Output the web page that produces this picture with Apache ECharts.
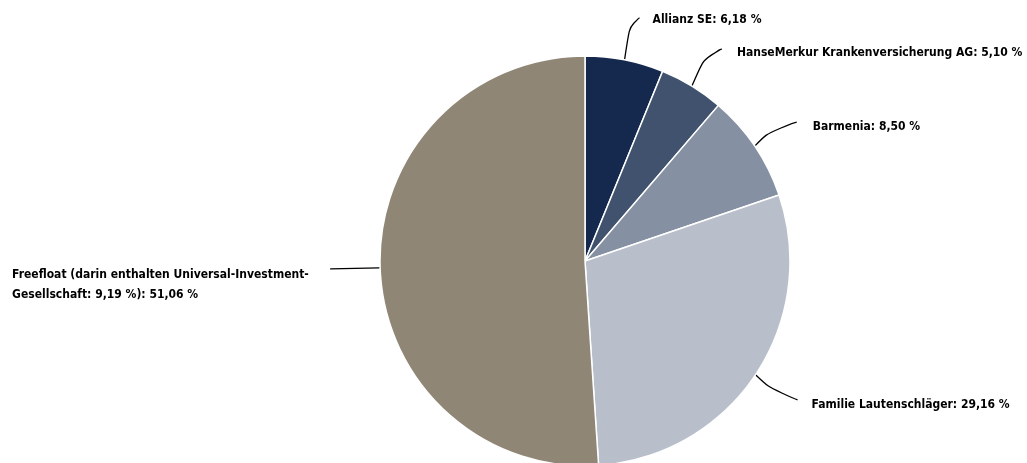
<!DOCTYPE html>
<html><head><meta charset="utf-8">
<script src="https://cdn.jsdelivr.net/npm/echarts@6/dist/echarts.min.js"></script>
<style>html,body{margin:0;padding:0;background:#fff}#c{width:1027px;height:463px}</style>
</head><body><div id="c"></div>
<script>
// ---- data ----
const categories = [
  'Allianz SE',
  'HanseMerkur Krankenversicherung AG',
  'Barmenia',
  'Familie Lautenschläger',
  'Freefloat (darin enthalten Universal-Investment-\nGesellschaft: 9,19 %)'
];
const shares = [6.18, 5.10, 8.50, 29.16, 51.06];

// ---- style / layout (not data) ----
const colors = ['#14294d', '#40526e', '#8590a3', '#b8bfcb', '#8f8676'];
// per label: [elbowDx, elbowDy, endDx, endDy, textDx, textDy, align] relative to the slice edge point
const labelGeom = [
  [6, -40, 15, -42, 28, -40, 'left'],
  [16, -37, 30, -37, 45, -33, 'left'],
  [23, -24, 42, -24, 58, -19, 'left'],
  [24, 23, 42, 25, 56, 30, 'left'],
  [-25, 0, -50, 1, -368, 17, 'left']
];

const fmt = v => v.toFixed(2).replace('.', ',') + ' %';

const chart = echarts.init(document.getElementById('c'), null, {renderer: 'canvas'});
chart.setOption({
  animation: false,
  backgroundColor: '#ffffff',
  series: [{
    type: 'pie',
    center: [585, 261],
    radius: [0, 205],
    startAngle: 90,
    clockwise: true,
    avoidLabelOverlap: false,
    data: categories.map((n, i) => ({name: n, value: shares[i], itemStyle: {color: colors[i]}})),
    itemStyle: {borderColor: '#ffffff', borderWidth: 1.5},
    label: {
      show: true,
      position: 'outside',
      formatter: p => p.name + ': ' + fmt(p.value),
      fontFamily: "'DejaVu Sans Condensed', 'Liberation Sans Narrow', sans-serif",
      fontWeight: 'bold',
      fontSize: 12,
      lineHeight: 20,
      color: '#000000'
    },
    labelLine: {
      show: true,
      smooth: 0.9,
      lineStyle: {color: '#000000', width: 1.3}
    },
    labelLayout: function (params) {
      const g = labelGeom[params.dataIndex];
      const p0 = params.labelLinePoints[0];
      return {
        x: p0[0] + g[4],
        y: p0[1] + g[5],
        align: g[6],
        verticalAlign: 'middle',
        labelLinePoints: [
          [p0[0], p0[1]],
          [p0[0] + g[0], p0[1] + g[1]],
          [p0[0] + g[2], p0[1] + g[3]]
        ]
      };
    }
  }]
});
</script>
</body></html>
